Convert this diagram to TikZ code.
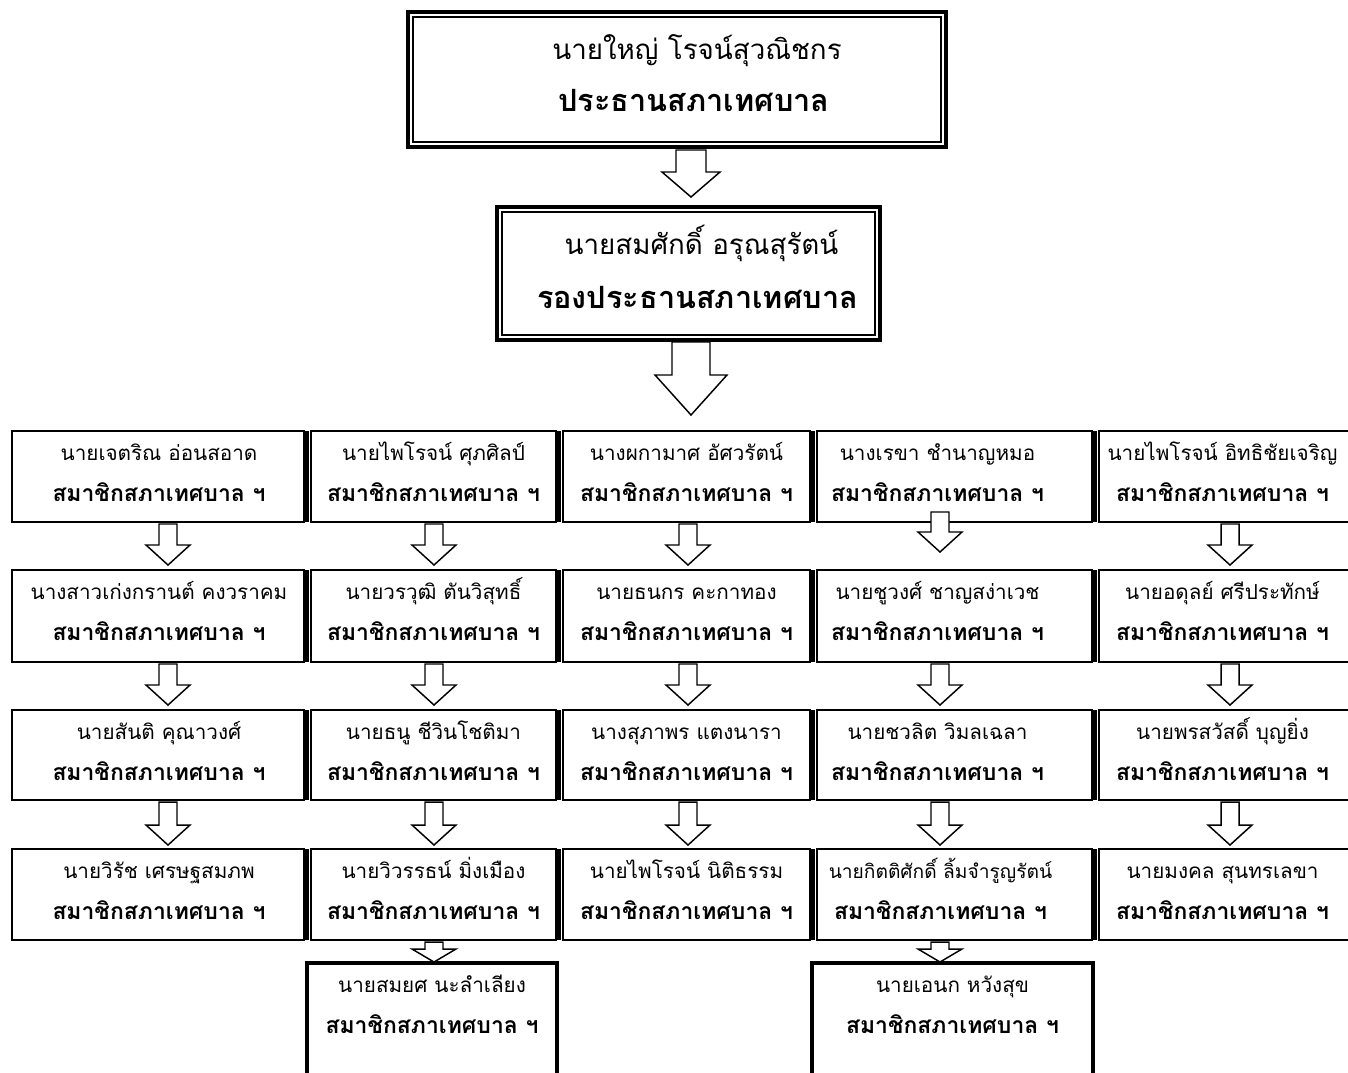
\documentclass[tikz,border=0pt]{standalone}
\usepackage{fontspec}
\newfontfamily\thai[Script=Thai]{Loma}
\usetikzlibrary{calc,fit}

\tikzset{
  x=0.75pt, y=-0.75pt,
  rowbox/.style={draw, line width=1.8pt, inner sep=0pt, outer sep=0pt, fill=white},
  extrabox/.style={draw, line width=2.6pt, inner sep=0pt, outer sep=0pt, fill=white},
  topbox/.style={draw, line width=2.6pt, inner sep=0pt, outer sep=0pt, fill=white},
  topinner/.style={draw, line width=1.2pt},
  sepline/.style={line width=4.5pt},
  nameline/.style={anchor=base, inner sep=0pt, font=\thai\fontsize{15.5}{16}\selectfont},
  roleline/.style={anchor=base, inner sep=0pt, font=\thai\bfseries\fontsize{17.2}{18}\selectfont},
  topname/.style={anchor=base, inner sep=0pt, font=\thai\fontsize{20.8}{22}\selectfont},
  toprole/.style={anchor=base, inner sep=0pt, font=\thai\bfseries\fontsize{23}{24}\selectfont},
  blockarrow/.style={draw, fill=white, line width=1.1pt, line join=miter},
}

% member box: style, name, top-left corner, bottom-right corner, text offset, person
\newcommand\member[6]{%
  \node[#1, fit={(#3) (#4)}] (#2) {};
  \node[nameline] (#2-a) at ($(#2.north)+(#5,29)$) {#6};
  \node[roleline] (#2-b) at ($(#2.north)+(#5,70)$) {สมาชิกสภาเทศบาล ฯ};
}

% hollow block arrow pointing down between two nodes:
% x, from, to, start below from, stop above to, half shaft, half head, head length
\newcommand\blockdown[8]{%
  \draw[blockarrow]
    ($(#1,0 |- #2.south)+(-#6,#4)$) --
    ($(#1,0 |- #2.south)+(#6,#4)$) --
    ($(#1,0 |- #3.north)+(#6,-#5-#8)$) --
    ($(#1,0 |- #3.north)+(#7,-#5-#8)$) --
    ($(#1,0 |- #3.north)+(0,-#5)$) --
    ($(#1,0 |- #3.north)+(-#7,-#5-#8)$) --
    ($(#1,0 |- #3.north)+(-#6,-#5-#8)$) -- cycle;
}

% thick outer rule on the left side of a box
\newcommand\leftrule[1]{%
  \draw[sepline] ($(#1.north west)+(-5,0)$) -- ($(#1.south west)+(-5,0)$);
}

\begin{document}
\begin{tikzpicture}
\useasboundingbox (0,0) rectangle (1348,1072);
\clip (0,0) rectangle (1348,1072);

% chairman
\node[topbox, fit={(408,12) (946,147)}] (chair) {};
\draw[topinner] ($(chair.north west)+(5,5)$) rectangle ($(chair.south east)+(-5,-5)$);
\node[topname] (chair-a) at ($(chair.north)+(20,47)$) {นายใหญ่ โรจน์สุวณิชกร};
\node[toprole] (chair-b) at ($(chair.north)+(17,99)$) {ประธานสภาเทศบาล};

% vice chairman
\node[topbox, fit={(497,207) (880,340)}] (vice) {};
\draw[topinner] ($(vice.north west)+(5,5)$) rectangle ($(vice.south east)+(-5,-5)$);
\node[topname] (vice-a) at ($(vice.north)+(13,47)$) {นายสมศักดิ์ อรุณสุรัตน์};
\node[toprole] (vice-b) at ($(vice.north)+(9,101)$) {รองประธานสภาเทศบาล};

% row 1
\member{rowbox}{r1c1}{12,431}{304,522}{1}{นายเจตริณ อ่อนสอาด}
\member{rowbox}{r1c2}{311,431}{556,522}{0}{นายไพโรจน์ ศุภศิลป์}
\member{rowbox}{r1c3}{563,431}{810,522}{0}{นางผกามาศ อัศวรัตน์}
\member{rowbox}{r1c4}{817,431}{1092,522}{-17}{นางเรขา ชำนาญหมอ}
\member{rowbox}{r1c5}{1099,431}{1400,522}{-27}{นายไพโรจน์ อิทธิชัยเจริญ}
% row 2
\member{rowbox}{r2c1}{12,570}{304,662}{1}{นางสาวเก่งกรานต์ คงวราคม}
\member{rowbox}{r2c2}{311,570}{556,662}{0}{นายวรวุฒิ ตันวิสุทธิ์}
\member{rowbox}{r2c3}{563,570}{810,662}{0}{นายธนกร คะกาทอง}
\member{rowbox}{r2c4}{817,570}{1092,662}{-17}{นายชูวงศ์ ชาญสง่าเวช}
\member{rowbox}{r2c5}{1099,570}{1400,662}{-27}{นายอดุลย์ ศรีประทักษ์}
% row 3
\member{rowbox}{r3c1}{12,710}{304,800}{1}{นายสันติ คุณาวงศ์}
\member{rowbox}{r3c2}{311,710}{556,800}{0}{นายธนู ชีวินโชติมา}
\member{rowbox}{r3c3}{563,710}{810,800}{0}{นางสุภาพร แตงนารา}
\member{rowbox}{r3c4}{817,710}{1092,800}{-17}{นายชวลิต วิมลเฉลา}
\member{rowbox}{r3c5}{1099,710}{1400,800}{-27}{นายพรสวัสดิ์ บุญยิ่ง}
% row 4
\member{rowbox}{r4c1}{12,849}{304,940}{1}{นายวิรัช เศรษฐสมภพ}
\member{rowbox}{r4c2}{311,849}{556,940}{0}{นายวิวรรธน์ มิ่งเมือง}
\member{rowbox}{r4c3}{563,849}{810,940}{0}{นายไพโรจน์ นิติธรรม}
\member{rowbox}{r4c4}{817,849}{1092,940}{-14}{\fontsize{14.4}{16}\selectfont นายกิตติศักดิ์ ลิ้มจำรูญรัตน์}
\member{rowbox}{r4c5}{1099,849}{1400,940}{-27}{นายมงคล สุนทรเลขา}
% row 5
\member{extrabox}{r5c2}{307,963}{557,1090}{0}{นายสมยศ นะลำเลียง}
\member{extrabox}{r5c4}{812,963}{1093,1090}{0}{นายเอนก หวังสุข}

% thick rules between neighbouring boxes
\foreach \r in {1,2,3,4} {
  \foreach \c in {2,3,4,5} { \leftrule{r\r c\c} }
}

% arrows
\blockdown{691}{chair}{vice}{3}{10}{15}{29}{25}
\blockdown{691}{vice}{r1c3}{2}{16}{19}{36}{40}

\blockdown{168}{r1c1}{r2c1}{2}{5}{9}{22}{20}
\blockdown{434}{r1c2}{r2c2}{2}{5}{9}{22}{20}
\blockdown{688}{r1c3}{r2c3}{2}{5}{9}{22}{20}
\blockdown{940}{r1c4}{r2c4}{-10}{18}{9}{22}{20}
\blockdown{1230}{r1c5}{r2c5}{2}{5}{9}{22}{20}

\blockdown{168}{r2c1}{r3c1}{2}{5}{9}{22}{20}
\blockdown{434}{r2c2}{r3c2}{2}{5}{9}{22}{20}
\blockdown{688}{r2c3}{r3c3}{2}{5}{9}{22}{20}
\blockdown{940}{r2c4}{r3c4}{2}{5}{9}{22}{20}
\blockdown{1230}{r2c5}{r3c5}{2}{5}{9}{22}{20}

\blockdown{168}{r3c1}{r4c1}{2}{4}{9}{22}{20}
\blockdown{434}{r3c2}{r4c2}{2}{4}{9}{22}{20}
\blockdown{688}{r3c3}{r4c3}{2}{4}{9}{22}{20}
\blockdown{940}{r3c4}{r4c4}{2}{4}{9}{22}{20}
\blockdown{1230}{r3c5}{r4c5}{2}{4}{9}{22}{20}

\blockdown{434}{r4c2}{r5c2}{2}{1}{9}{22}{13}
\blockdown{940}{r4c4}{r5c4}{2}{1}{9}{22}{13}
\end{tikzpicture}
\end{document}
